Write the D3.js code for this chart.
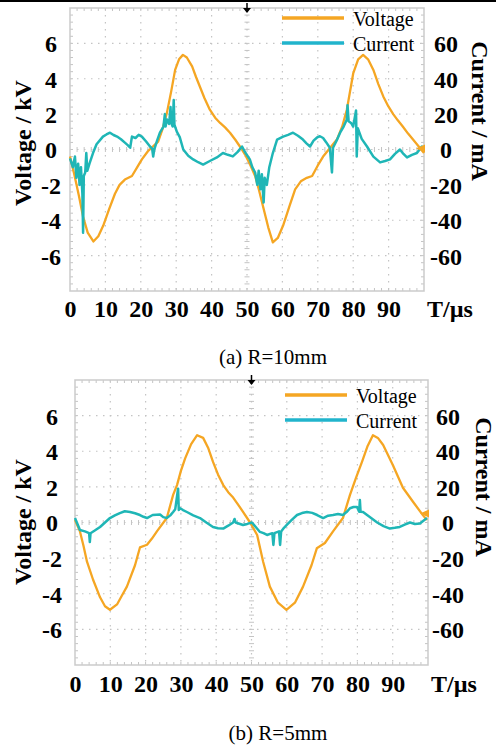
<!DOCTYPE html>
<html>
<head>
<meta charset="utf-8">
<script src="https://cdn.jsdelivr.net/npm/d3@7"></script>
<style>
  body { margin: 0; background: #fff; }
  svg { display: block; }
  text { font-family: "Liberation Serif", "Times New Roman", serif; }
</style>
</head>
<body>
<svg id="chart" width="496" height="751"></svg>
<script>
// data, [time µs, value]
var timeTicks = [0, 10, 20, 30, 40, 50, 60, 70, 80, 90];
var voltTicks = [-6, -4, -2, 0, 2, 4, 6];
var currTicks = [-60, -40, -20, 0, 20, 40, 60];

// (a) R=10mm
var voltageA = [[0,-0.4],[1.2,-1.4],[2.5,-2.6],[3.7,-3.8],[5,-4.7],[6.6,-5.2],[8,-4.9],[9.4,-4.3],[11,-3.4],
  [12.7,-2.5],[14,-2],[15.5,-1.7],[17.5,-1.5],[19,-1],[20.3,-0.56],[22,-0.1],[24.9,0.45],[26.2,1.2],[27.4,2.1],
  [28.6,3.3],[29.7,4.5],[30.8,5.1],[31.9,5.35],[33,5.2],[34.5,4.7],[35.6,4.1],[36.7,3.55],[38,2.9],[39.5,2.25],
  [41,1.8],[42.4,1.5],[43.8,1.25],[45.2,0.95],[46.7,0.55],[48,0.17],[49.5,-0.3],[51,-0.9],[52.3,-1.5],[53.4,-2.3],
  [54.5,-3.2],[56,-4.4],[57.3,-5.25],[58.7,-5],[60.2,-4.3],[62,-3.2],[63.6,-2.25],[65.2,-1.8],[66.9,-1.6],
  [68.4,-1.5],[70,-0.9],[71.5,-0.4],[73.5,0.1],[75.4,0.56],[76.9,1.3],[78.2,2.25],[80,4.3],[81.4,5.1],[82.8,5.35],
  [84.2,5.1],[85.7,4.5],[87.1,3.7],[88.5,3],[89.9,2.45],[91.3,2],[92.6,1.65],[94,1.3],[95.5,0.9],[96.9,0.56],
  [98.8,0.1],[100,-0.2]];
var currentA = [[0,-5],[0.8,-10],[1.4,-4],[1.8,-16],[2.3,-8],[2.7,-20],[3.1,-10],[3.5,-25],[3.7,-47],[3.9,-15],
  [4.3,-13],[4.6,-2],[4.9,-12],[5.5,-8],[6.5,-2],[7.5,3],[9.3,7.3],[10.3,8.5],[11.3,9.5],[12.3,8.2],[13.3,7.3],
  [14.4,5.8],[15.5,3.9],[16.3,2.5],[17,1],[17.5,7.3],[18.5,6.5],[19.4,8.3],[20.3,7.3],[21.5,4.5],[22.6,1.7],
  [23.2,0.5],[23.5,-4],[23.8,0],[24.6,5],[25.4,9.5],[26.4,13],[26.8,20],[27,13],[27.4,17],[28,14.5],[28.4,24],
  [28.6,15],[29,13],[29.3,28],[29.5,14],[30.2,10],[31,7],[32,0],[33.4,-3.5],[34.8,-5.6],[36.2,-7.2],[37.6,-8.5],
  [39.5,-6.5],[41.5,-4.5],[43.2,-2],[44.6,-3],[46,-3.9],[47.3,-1.5],[48.6,1.7],[49.6,-2],[50.8,-5.6],[51.5,-10],
  [52.3,-13],[52.9,-20],[53.3,-12],[53.8,-22.5],[54.2,-14],[54.7,-30],[55,-16],[55.6,-20],[56.3,-10],[57.3,-2],
  [58.5,5.6],[60.2,7.3],[61.6,8.3],[63,9.5],[64.4,7.8],[65.8,5.6],[66.8,3.5],[67.8,1.7],[68.8,5],[69.8,6.8],
  [70.6,7.5],[71.5,6.5],[72.4,4],[73.4,1],[74,-13],[74.3,1],[75.3,5],[76.3,9.5],[77.3,13],[78.2,17],[78.4,25],
  [78.7,16],[79.4,15],[80,13],[80.8,22],[81,-4],[81.3,12],[82.4,6],[83.9,1.7],[85.7,-4],[87.6,-7.3],[89,-6.5],
  [90.4,-5.6],[91.8,-2.5],[93.2,0],[94.2,-2.5],[95.2,-4.5],[96.6,-3],[98,-2],[99.4,1.7],[100,0]];

// (b) R=5mm
var voltageB = [[0,0.14],[1.4,-0.5],[2.4,-1.3],[3.4,-2.2],[5.1,-3.2],[7.1,-4.2],[8.5,-4.7],[9.9,-4.9],
  [11.9,-4.6],[13.3,-4.1],[14.7,-3.6],[17,-2.4],[18.4,-1.4],[20.4,-1.25],[21.8,-0.9],[23.2,-0.5],[26,0.25],
  [27.8,1.55],[28.9,2.1],[30,2.9],[31.2,3.6],[32.9,4.4],[34.6,4.9],[36.3,4.75],[37.7,4.2],[39.1,3.4],[40.5,2.7],
  [42,2.1],[43.4,1.7],[44.8,1.4],[46.2,1],[47.6,0.6],[49.6,0],[51.6,-0.7],[53.3,-2.2],[55.2,-3.6],[57.5,-4.5],
  [59.9,-4.9],[62.3,-4.5],[64.6,-3.6],[67,-2.4],[68.5,-1.45],[70.8,-1.15],[73.1,-0.5],[75.9,0.25],[77.9,1.55],
  [79.6,2.5],[81.3,3.4],[82.9,4.3],[84.4,4.9],[85.8,4.75],[87.3,4.35],[90.1,3.2],[92.9,1.95],[95.8,1.15],
  [98.6,0.4],[99.7,0.14]];
var currentB = [[0,2.5],[1.4,-4.2],[2.8,-5],[4,-6],[4.2,-11],[4.4,-6],[5.6,-4.5],[7.1,-2.5],[8.5,0],[9.9,2.5],
  [11.3,4],[12.7,5.3],[14.1,6.3],[15.6,5.9],[17,5.2],[18.4,4.2],[19.4,3.2],[20.4,2.5],[22,4.2],[24.1,4.5],
  [25,3],[26,2.5],[27,4],[27.8,5.9],[28.4,7.5],[29.2,19],[29.4,7],[29.8,8],[30.6,7],[31.7,5.9],[33.5,4],[35.4,2.5],
  [37.2,0],[39.1,-2.5],[40.5,-3.2],[42,-3.4],[43.4,-1.8],[44.8,0],[45.2,2],[45.5,0],[47.6,-1.4],[48.8,-0.8],
  [50.1,0],[51.2,-2.5],[52.4,-5.3],[53.4,-6],[54.4,-7],[55.9,-6],[56.2,-12.6],[56.5,-6],[57.8,-5],[58.1,-12.6],
  [58.4,-5],[59.2,-3],[60,-1.4],[61.4,1.5],[62.9,4.2],[64.3,5.3],[65.7,5.9],[67.2,5.4],[68.6,4.2],[70.3,2.5],
  [71.7,3.8],[73.1,4.2],[74.5,4.8],[75.9,4.2],[77,6],[77.9,8],[78.9,8.7],[79.9,8.7],[80.5,6],[80.7,12.6],
  [80.9,6],[81.6,5.9],[83.6,3],[85.6,0],[87.4,-2],[89.2,-3.4],[90.6,-3],[92,-2.5],[93.4,-1.2],[94.9,0],
  [96.3,-0.8],[97.7,-0.5],[99.7,2.5]];

var svg = d3.select("#chart");
var voltColor = "#f5a623",
    currColor = "#1fb6b6",
    legendCurr = "#21b4cc";

// black strip at the very top of the picture
svg.append("rect").attr("x", 0).attr("y", 0).attr("width", 496).attr("height", 2).attr("fill", "#000");

function plain(d) { return String(d); }   // hyphen minus, like the original

function styleTicks(sel) {
  sel.selectAll("text")
    .style("font-family", "Liberation Serif").style("font-weight", "bold").style("font-size", "24px")
    .attr("fill", "#000");
}

function drawPanel(p) {
  var g = svg.append("g");
  var x = d3.scaleLinear().domain([0, 100]).range([p.left, p.right]);
  var yV = d3.scaleLinear().domain([-8, 8]).range([p.bottom, p.top]);
  var yI = d3.scaleLinear().domain([-80, 80]).range([p.bottom, p.top]);

  // dotted grid
  g.selectAll(".vgrid").data(d3.range(10, 100, 10)).enter().append("line")
    .attr("x1", function(d) { return x(d); }).attr("x2", function(d) { return x(d); })
    .attr("y1", p.top).attr("y2", p.bottom)
    .attr("stroke", "#c4c4c4").attr("stroke-width", 1.2).attr("stroke-dasharray", "1.5,5.5");
  g.selectAll(".hgrid").data(d3.range(-6, 8, 2)).enter().append("line")
    .attr("y1", function(d) { return yV(d); }).attr("y2", function(d) { return yV(d); })
    .attr("x1", p.left).attr("x2", p.right)
    .attr("stroke", "#c4c4c4").attr("stroke-width", 1.2).attr("stroke-dasharray", "1.5,5.5");

  // minor ticks on the frame and centre axes
  var minorX = d3.range(2, 100, 2), minorY = d3.range(-7.6, 8, 0.4);
  minorX.forEach(function(t) {
    [[p.top, p.top + 3], [p.bottom - 3, p.bottom], [yV(0) - 2.5, yV(0) + 2.5]].forEach(function(s) {
      g.append("line").attr("x1", x(t)).attr("x2", x(t)).attr("y1", s[0]).attr("y2", s[1])
        .attr("stroke", "#c4c4c4").attr("stroke-width", 1);
    });
  });
  minorY.forEach(function(v) {
    [[p.left, p.left + 3], [p.right - 3, p.right], [x(50) - 2.5, x(50) + 2.5]].forEach(function(s) {
      g.append("line").attr("y1", yV(v)).attr("y2", yV(v)).attr("x1", s[0]).attr("x2", s[1])
        .attr("stroke", "#c4c4c4").attr("stroke-width", 1);
    });
  });

  g.append("rect").attr("x", p.left).attr("y", p.top)
    .attr("width", p.right - p.left).attr("height", p.bottom - p.top)
    .attr("fill", "none").attr("stroke", "#cbcbcb").attr("stroke-width", 1.5);

  // traces
  var lineV = d3.line().x(function(d) { return x(d[0]); }).y(function(d) { return yV(d[1]); });
  var lineI = d3.line().x(function(d) { return x(d[0]); }).y(function(d) { return yI(d[1]); });
  g.append("path").datum(p.voltage).attr("d", lineV)
    .attr("fill", "none").attr("stroke", voltColor).attr("stroke-width", 2.3).attr("stroke-linejoin", "round");
  g.append("path").datum(p.current).attr("d", lineI)
    .attr("fill", "none").attr("stroke", currColor).attr("stroke-width", 2.5).attr("stroke-linejoin", "round");

  // scope markers
  var cx = x(50);
  g.append("path").attr("d", "M" + cx + "," + (p.top - 5) + "V" + (p.top + 4))
    .attr("stroke", "#000").attr("stroke-width", 1.5);
  g.append("path").attr("d", "M" + (cx - 4) + "," + p.top + "L" + cx + "," + (p.top + 5) + "L" + (cx + 4) + "," + p.top + "Z")
    .attr("fill", "#000");
  var my = yV(p.trigLevel);
  g.append("path").attr("d", "M" + (p.right - 8) + "," + my + "L" + (p.right + 1) + "," + (my - 4) + "L" + (p.right + 1) + "," + (my + 4) + "Z")
    .attr("fill", voltColor);

  // axes
  var ax = g.append("g").attr("transform", "translate(0," + p.bottom + ")")
    .call(d3.axisBottom(x).tickValues(timeTicks).tickSize(0).tickFormat(plain));
  ax.select(".domain").remove();
  ax.selectAll("text").attr("y", p.xLabelY - p.bottom).attr("dy", 0);
  styleTicks(ax);

  var al = g.append("g").attr("transform", "translate(" + p.left + ",0)")
    .call(d3.axisLeft(yV).tickValues(voltTicks).tickSize(0).tickFormat(plain));
  al.select(".domain").remove();
  al.selectAll("text").attr("x", p.leftLabelX - p.left).attr("text-anchor", "middle").attr("dy", "0.35em");
  styleTicks(al);

  var ar = g.append("g").attr("transform", "translate(" + p.right + ",0)")
    .call(d3.axisRight(yI).tickValues(currTicks).tickSize(0).tickFormat(plain));
  ar.select(".domain").remove();
  ar.selectAll("text").attr("x", p.rightLabelX - p.right).attr("text-anchor", "middle").attr("dy", "0.35em");
  styleTicks(ar);

  g.append("text").attr("x", p.right + 3).attr("y", p.xLabelY).text("T/µs")
    .style("font-weight", "bold").style("font-size", "24px");

  g.append("text").attr("transform", "translate(" + p.vTitle[0] + "," + p.vTitle[1] + ") rotate(-90)")
    .attr("text-anchor", "middle").text("Voltage / kV")
    .style("font-weight", "bold").style("font-size", "24px");
  g.append("text").attr("transform", "translate(" + p.iTitle[0] + "," + p.iTitle[1] + ") rotate(90)")
    .attr("text-anchor", "middle").text("Current / mA")
    .style("font-weight", "bold").style("font-size", "24px");

  // legend
  var legend = [["Voltage", voltColor], ["Current", legendCurr]];
  legend.forEach(function(d, i) {
    var ly = p.legendY + i * 25;
    g.append("line").attr("x1", p.legendX).attr("x2", p.legendX + 62).attr("y1", ly).attr("y2", ly)
      .attr("stroke", d[1]).attr("stroke-width", 3.5);
    g.append("text").attr("x", p.legendX + 71).attr("y", ly + 8).text(d[0])
      .style("font-size", "20px").attr("fill", "#000");
  });

  g.append("text").attr("x", p.capX).attr("y", p.capY).attr("text-anchor", "middle").text(p.caption)
    .style("font-size", "21px").attr("fill", "#000");
}

drawPanel({
  left: 70, right: 424, top: 8, bottom: 291,
  voltage: voltageA, current: currentA, trigLevel: 0.05,
  xLabelY: 317, leftLabelX: 51, rightLabelX: 446,
  vTitle: [31, 143], iTitle: [472, 111],
  legendX: 282, legendY: 18,
  capX: 273, capY: 364, caption: "(a) R=10mm"
});

drawPanel({
  left: 75, right: 428, top: 380, bottom: 665,
  voltage: voltageB, current: currentB, trigLevel: 0.5,
  xLabelY: 692, leftLabelX: 52, rightLabelX: 448,
  vTitle: [31, 522], iTitle: [476, 487],
  legendX: 285, legendY: 395,
  capX: 278, capY: 740, caption: "(b) R=5mm"
});
</script>
</body>
</html>
